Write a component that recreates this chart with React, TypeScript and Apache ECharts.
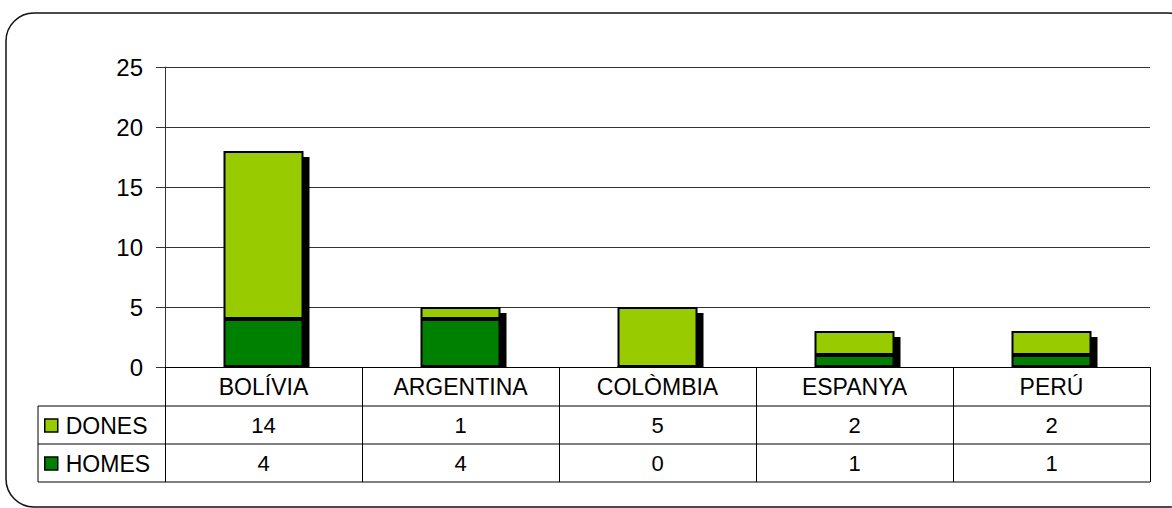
import React, { useEffect, useRef } from "react";
import * as echarts from "echarts";

const categories = ["BOLÍVIA", "ARGENTINA", "COLÒMBIA", "ESPANYA", "PERÚ"];
const dones = [14, 1, 5, 2, 2];
const homes = [4, 4, 0, 1, 1];
const seriesNames = ["DONES", "HOMES"];
const yMin = 0;
const yMax = 25;
const yInterval = 5;

const FONT = "'Liberation Sans', Arial, sans-serif";
const LIGHT = "#99CC00";
const DARK = "#008000";

export default function App() {
  const ref = useRef<HTMLDivElement>(null);
  useEffect(() => {
    if (!ref.current) return;
    const chart = echarts.init(ref.current, null, { renderer: "svg" });
    const totals = categories.map((_, i) => homes[i] + dones[i]);
    const gridLeft = 165;
    const gridRight = 1150;
    const axisY = 367;
    const rowH = [39, 38, 38];
    const r1 = axisY + rowH[0];
    const r2 = r1 + rowH[1];
    const r3 = r2 + rowH[2];
    const tableLeft = 38;
    const lineStyle = { stroke: "#000", lineWidth: 1 };
    chart.setOption({
      animation: false,
      textStyle: { fontFamily: FONT },
      grid: { left: gridLeft, right: 1172 - gridRight, top: 67, bottom: 508 - axisY, containLabel: false },
      legend: {
        data: seriesNames,
        orient: "vertical",
        left: 44,
        top: 414,
        itemWidth: 13,
        itemHeight: 13,
        itemGap: 15,
        padding: 0,
        selectedMode: false,
        icon: "rect",
        itemStyle: { borderColor: "#000", borderWidth: 1.5 },
        textStyle: { fontSize: 23, color: "#000", fontFamily: FONT, padding: [0, 0, 0, 3] },
      },
      xAxis: {
        type: "category",
        data: categories,
        axisLine: { show: true, lineStyle: { color: "#000", width: 1 } },
        axisTick: { show: true, length: r3 - axisY, lineStyle: { color: "#000", width: 1 } },
        axisLabel: {
          interval: 0,
          margin: 0,
          hideOverlap: false,
          formatter: (value: string, idx: number) =>
            `{c|${value}}\n{v|${dones[idx]}}\n{v|${homes[idx]}}`,
          rich: {
            c: { fontSize: 23, lineHeight: rowH[0], color: "#000", fontFamily: FONT },
            v: { fontSize: 22, lineHeight: rowH[1], color: "#000", fontFamily: FONT },
          },
        },
      },
      yAxis: {
        type: "value",
        min: yMin,
        max: yMax,
        interval: yInterval,
        axisLine: { show: true, lineStyle: { color: "#333", width: 1 } },
        axisTick: { show: true, length: 9, lineStyle: { color: "#333" } },
        axisLabel: { fontSize: 24, color: "#000", margin: 22, fontFamily: FONT },
        splitLine: { show: true, lineStyle: { color: "#333", width: 1 } },
      },
      graphic: [
        {
          type: "rect",
          shape: { x: 6, y: 13, width: 1190, height: 494, r: 28 },
          style: { fill: "none", stroke: "#111", lineWidth: 1.5 },
          z: 0,
        },
        { type: "line", shape: { x1: tableLeft, y1: r1, x2: gridRight, y2: r1 }, style: lineStyle, z: 10 },
        { type: "line", shape: { x1: tableLeft, y1: r2, x2: gridRight, y2: r2 }, style: lineStyle, z: 10 },
        { type: "line", shape: { x1: tableLeft, y1: r3, x2: gridRight, y2: r3 }, style: lineStyle, z: 10 },
        { type: "line", shape: { x1: tableLeft, y1: r1, x2: tableLeft, y2: r3 }, style: lineStyle, z: 10 },
      ],
      series: [
        {
          type: "custom",
          name: "shadow",
          z: 1,
          silent: true,
          data: categories.map((_, i) => [i, totals[i]]),
          encode: { x: 0, y: 1 },
          renderItem: (params: any, api: any) => {
            const idx = api.value(0);
            const total = api.value(1);
            const top = api.coord([idx, total]);
            const base = api.coord([idx, 0]);
            const w = 80;
            return {
              type: "rect",
              shape: { x: top[0] - w / 2 + 6, y: top[1] + 6, width: w, height: base[1] - top[1] - 6 },
              style: { fill: "#000" },
            };
          },
        },
        {
          type: "bar",
          name: "HOMES",
          stack: "total",
          z: 2,
          barWidth: 80,
          data: homes,
          itemStyle: { color: DARK, borderColor: "#000", borderWidth: 2 },
        },
        {
          type: "bar",
          name: "DONES",
          stack: "total",
          z: 2,
          barWidth: 80,
          data: dones,
          itemStyle: { color: LIGHT, borderColor: "#000", borderWidth: 2 },
        },
      ],
    });
    return () => chart.dispose();
  }, []);
  return (
    <div
      ref={ref}
      style={{ position: "fixed", left: 0, top: 0, width: 1172, height: 508, background: "#fff" }}
    />
  );
}
